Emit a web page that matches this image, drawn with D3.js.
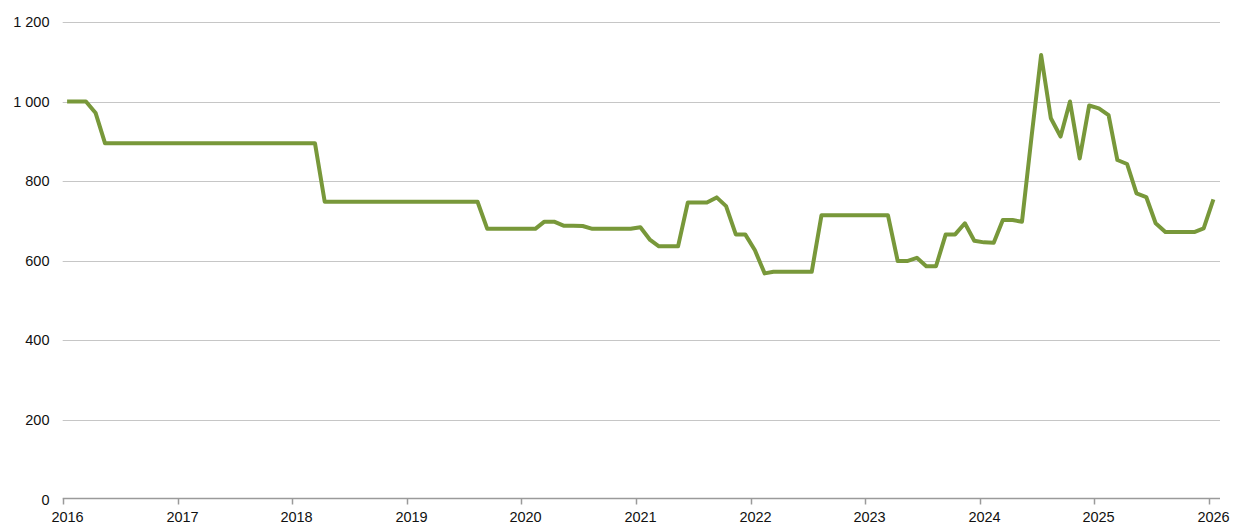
<!DOCTYPE html>
<html>
<head>
<meta charset="utf-8">
<script src="https://cdn.jsdelivr.net/npm/d3@7/dist/d3.min.js"></script>
<style>
  html, body { margin: 0; padding: 0; background: #fff; }
  svg { display: block; }
  text { font-family: "Liberation Sans", Arial, sans-serif; fill: #111; }
</style>
</head>
<body>
<svg id="chart" width="1233" height="526"></svg>
<script>
// Monthly series, Jan 2016 .. Jan 2026
const startYear = 2016;
const values = [
  // 2016
  1000, 1000, 1000, 971, 895, 895, 895, 895, 895, 895, 895, 895,
  // 2017
  895, 895, 895, 895, 895, 895, 895, 895, 895, 895, 895, 895,
  // 2018
  895, 895, 895, 748, 748, 748, 748, 748, 748, 748, 748, 748,
  // 2019
  748, 748, 748, 748, 748, 748, 748, 748, 680, 680, 680, 680,
  // 2020
  680, 680, 698, 698, 688, 688, 687, 680, 680, 680, 680, 680,
  // 2021
  684, 652, 636, 636, 636, 746, 746, 746, 759, 737, 666, 666,
  // 2022
  626, 568, 572, 572, 572, 572, 572, 714, 714, 714, 714, 714,
  // 2023
  714, 714, 714, 599, 599, 607, 586, 586, 666, 666, 694, 650,
  // 2024
  646, 645, 702, 702, 698, 915, 1117, 958, 912, 1000, 857, 990,
  // 2025
  983, 966, 853, 843, 769, 760, 694, 672, 672, 672, 672, 681,
  // 2026
  754
];
const yTicks = [0, 200, 400, 600, 800, 1000, 1200];
const xTickYears = [2016, 2017, 2018, 2019, 2020, 2021, 2022, 2023, 2024, 2025, 2026];

const data = values.map((v, i) => ({
  date: new Date(startYear + Math.floor(i / 12), i % 12, 15),
  value: v
}));

const svg = d3.select("#chart");
const mLeft = 62.7, mRight = 1209, mTop = 22, mBottom = 499.3, axisEnd = 1220;

const x = d3.scaleTime()
  .domain([new Date(2016, 0, 1), new Date(2026, 0, 1)])
  .range([mLeft, mRight]);
const y = d3.scaleLinear().domain([0, 1200]).range([mBottom, mTop]);

const fmt = v => d3.format(",")(v).replace(/,/g, " ");

// gridlines
svg.append("g")
  .selectAll("line")
  .data(yTicks.filter(t => t > 0))
  .join("line")
  .attr("x1", mLeft).attr("x2", axisEnd)
  .attr("y1", d => Math.round(y(d)) + 0.5).attr("y2", d => Math.round(y(d)) + 0.5)
  .attr("stroke", "#c6c6c6").attr("stroke-width", 1);

// y labels
svg.append("g")
  .selectAll("text")
  .data(yTicks)
  .join("text")
  .attr("x", 49.5)
  .attr("y", d => y(d))
  .attr("dy", "0.36em")
  .attr("text-anchor", "end")
  .style("font-size", "14.5px")
  .text(fmt);

// x axis
const xAxis = svg.append("g")
  .attr("transform", `translate(0,${Math.round(mBottom) - 0.5})`);
xAxis.append("line")
  .attr("x1", mLeft).attr("x2", axisEnd)
  .attr("stroke", "#9a9a9a").attr("stroke-width", 1.5);
const xt = xAxis.selectAll("g.tick")
  .data(xTickYears)
  .join("g")
  .attr("class", "tick")
  .attr("transform", d => `translate(${Math.round(x(new Date(d, 0, 1))) + 0.5},0)`);
xt.append("line").attr("y1", 0).attr("y2", 6).attr("stroke", "#9a9a9a").attr("stroke-width", 1.5);
xt.append("text")
  .attr("x", 4)
  .attr("y", 23)
  .attr("text-anchor", "middle")
  .style("font-size", "14.5px")
  .text(d => d);

// line
const line = d3.line()
  .x(d => x(d.date))
  .y(d => y(d.value));
svg.append("path")
  .datum(data)
  .attr("fill", "none")
  .attr("stroke", "#78983a")
  .attr("stroke-width", 4)
  .attr("stroke-linejoin", "round")
  .attr("d", line);
</script>
</body>
</html>
